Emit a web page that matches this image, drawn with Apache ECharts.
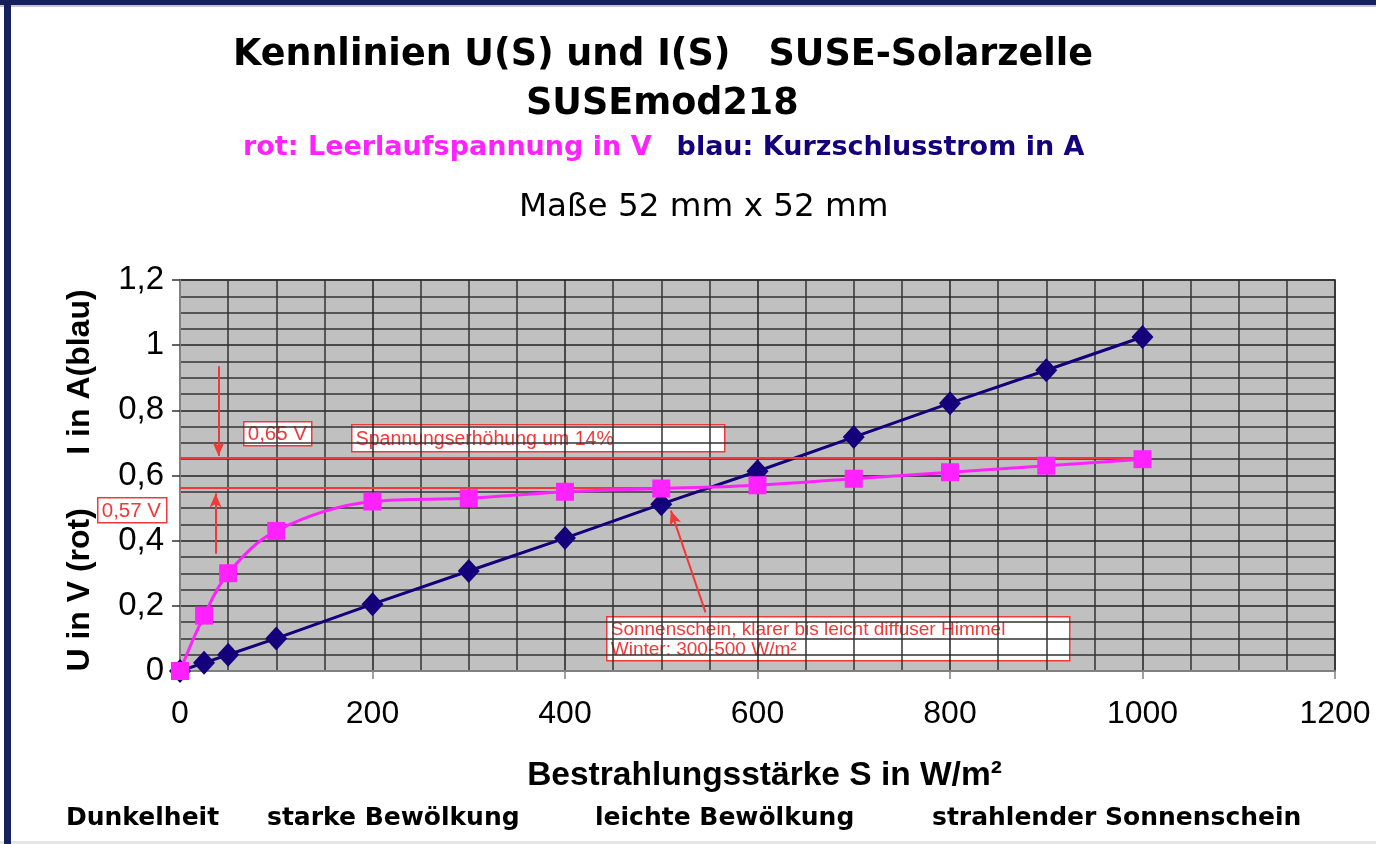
<!DOCTYPE html>
<html>
<head>
<meta charset="utf-8">
<script src="https://cdn.jsdelivr.net/npm/echarts@6/dist/echarts.min.js"></script>
<style>
html,body{margin:0;padding:0;background:#fff;}
#chart{width:1376px;height:844px;}
</style>
</head>
<body>
<div id="chart"></div>
<script>
// ---- data ----
const irradiance = [0, 25, 50, 100, 200, 300, 400, 500, 600, 700, 800, 900, 1000];
const voltageU = [0, 0.17, 0.30, 0.43, 0.52, 0.53, 0.55, 0.56, 0.57, 0.59, 0.61, 0.63, 0.65];
const currentI = [0, 0.025, 0.05, 0.10, 0.205, 0.307, 0.408, 0.512, 0.613, 0.718, 0.822, 0.923, 1.025];
const xTicks = [0, 200, 400, 600, 800, 1000, 1200];
const yTicks = ['0', '0,2', '0,4', '0,6', '0,8', '1', '1,2'];
// annotation lines (data units)
const line065 = [[0, 0.654], [1000, 0.654]];
const line056 = [[0, 0.561], [505, 0.561]];
const arrowDown = [[40, 0.935], [40, 0.66]];
const arrowUp = [[37, 0.36], [37, 0.545]];
const arrowDiag = [[546, 0.18], [510, 0.492]];

const PINK = '#ff22ff';
const NAVY = '#14007a';
const RED = '#f03a3a';

const chart = echarts.init(document.getElementById('chart'));

function pairs(a, b) { return a.map((x, i) => [x, b[i]]); }
function ml(pts, arrow) {
  return [{ coord: pts[0], symbol: 'none' }, { coord: pts[1], symbol: arrow ? 'arrow' : 'none', symbolSize: arrow ? [9, 14] : 0 }];
}
function box(x, y, w, h, lines, fs, lh) {
  return {
    type: 'group', left: x, top: y, z: 100,
    children: [
      { type: 'rect', shape: { x: 0, y: 0, width: w, height: h }, style: { fill: '#fff', stroke: RED, lineWidth: 1.5 } },
      { type: 'text', left: 4, top: (h - lines.length * lh) / 2 + 1, style: { text: lines.join('\n'), fill: RED, font: fs + 'px "Liberation Sans", Arial', lineHeight: lh } }
    ]
  };
}

const option = {
  animation: false,
  backgroundColor: '#fff',
  title: [
    { text: 'Kennlinien U(S) und I(S)   SUSE-Solarzelle', left: 228, top: 32, textStyle: { fontFamily: 'DejaVu Sans', fontWeight: 'bold', fontSize: 36.5, color: '#000' } },
    { text: 'SUSEmod218', left: 521, top: 81, textStyle: { fontFamily: 'DejaVu Sans', fontWeight: 'bold', fontSize: 36.5, color: '#000' } },
    { text: '{p|rot: Leerlaufspannung in V}     {b|blau: Kurzschlusstrom in A}', left: 238, top: 129,
      textStyle: { rich: {
        p: { fontFamily: 'DejaVu Sans', fontWeight: 'bold', fontSize: 27, color: PINK },
        b: { fontFamily: 'DejaVu Sans', fontWeight: 'bold', fontSize: 27, color: NAVY } } } },
    { text: 'Maße 52 mm x 52 mm', left: 514, top: 186, textStyle: { fontFamily: 'DejaVu Sans', fontWeight: 'normal', fontSize: 32.6, color: '#000' } }
  ],
  grid: { left: 180, right: 41, top: 280, bottom: 173, show: true, backgroundColor: '#c0c0c0', borderColor: '#808080', borderWidth: 2 },
  xAxis: {
    type: 'value', min: 0, max: 1200, interval: 200,
    name: 'Bestrahlungsstärke S in W/m²', nameLocation: 'middle', nameGap: 88,
    nameTextStyle: { fontFamily: 'Liberation Sans', fontWeight: 'bold', fontSize: 33.5, color: '#000', padding: [0, 0, 0, 14] },
    axisLine: { show: true, lineStyle: { color: '#808080', width: 2 } },
    axisTick: { show: true, length: 8, lineStyle: { color: '#808080', width: 1.5 } },
    axisLabel: { margin: 27, fontFamily: 'Liberation Sans', fontSize: 32, color: '#000',
      formatter: v => xTicks.includes(v) ? String(v) : '' },
    splitLine: { show: true, lineStyle: { color: '#222', width: 1.5 } },
    minorTick: { show: false, splitNumber: 4 },
    minorSplitLine: { show: true, lineStyle: { color: '#333', width: 1.5 } }
  },
  yAxis: {
    type: 'value', min: 0, max: 1.2, interval: 0.2,
    name: 'U in V (rot)      I in A(blau)', nameLocation: 'middle', nameGap: 84,
    nameTextStyle: { fontFamily: 'Liberation Sans', fontWeight: 'bold', fontSize: 32, color: '#000', padding: [0, 10, 0, 0] },
    axisLine: { show: true, lineStyle: { color: '#808080', width: 2 } },
    axisTick: { show: true, length: 8, lineStyle: { color: '#333', width: 1.5 } },
    axisLabel: { margin: 16, fontFamily: 'Liberation Sans', fontSize: 33, color: '#000',
      formatter: v => yTicks[Math.round(v / 0.2)] },
    splitLine: { show: true, lineStyle: { color: '#222', width: 1.5 } },
    minorTick: { show: false, splitNumber: 4 },
    minorSplitLine: { show: true, lineStyle: { color: '#333', width: 1.5 } }
  },
  series: [
    {
      name: 'I', type: 'line', data: pairs(irradiance, currentI),
      symbol: 'diamond', symbolSize: [22, 24], itemStyle: { color: NAVY },
      lineStyle: { color: NAVY, width: 3 }, z: 3
    },
    {
      name: 'annotations', type: 'line', data: [], silent: true, z: 4,
      markLine: {
        silent: true, animation: false, label: { show: false },
        lineStyle: { color: RED, width: 2, type: 'solid' },
        emphasis: { disabled: true },
        data: [ml(line065, false), ml(line056, false), ml(arrowDown, true), ml(arrowUp, true), ml(arrowDiag, true)]
      }
    },
    {
      name: 'U', type: 'line', data: pairs(irradiance, voltageU), smooth: 0.35,
      symbol: 'rect', symbolSize: 18, itemStyle: { color: PINK },
      lineStyle: { color: PINK, width: 3 }, z: 5
    }
  ],
  graphic: [
    { type: 'rect', left: 0, top: 0, shape: { width: 1376, height: 5 }, style: { fill: '#15205c' }, z: 200 },
    { type: 'rect', left: 0, top: 5, shape: { width: 1376, height: 2 }, style: { fill: '#c8c8c8' }, z: 200 },
    { type: 'rect', left: 4, top: 0, shape: { width: 7, height: 844 }, style: { fill: '#15205c' }, z: 200 },
    { type: 'rect', left: 0, top: 841, shape: { width: 1376, height: 3 }, style: { fill: '#e6e6e6' }, z: 199 },
    { type: 'text', left: 66, top: 806, style: { text: 'Dunkelheit', font: 'bold 25px "DejaVu Sans"', fill: '#000' } },
    { type: 'text', left: 267, top: 806, style: { text: 'starke Bewölkung', font: 'bold 25px "DejaVu Sans"', fill: '#000' } },
    { type: 'text', left: 595, top: 806, style: { text: 'leichte Bewölkung', font: 'bold 25px "DejaVu Sans"', fill: '#000' } },
    { type: 'text', left: 932, top: 806, style: { text: 'strahlender Sonnenschein', font: 'bold 25px "DejaVu Sans"', fill: '#000' } },
    box(243, 421, 68, 24, ['0,65 V'], 20.5, 22),
    box(351, 424, 373, 27, ['Spannungserhöhung um 14%'], 19.5, 22),
    box(97, 497, 69, 25, ['0,57 V'], 20.5, 22),
    box(606, 616, 463, 44, ['Sonnenschein, klarer bis leicht diffuser Himmel', 'Winter: 300-500 W/m²'], 19, 20)
  ]
};
chart.setOption(option);
</script>
</body>
</html>
